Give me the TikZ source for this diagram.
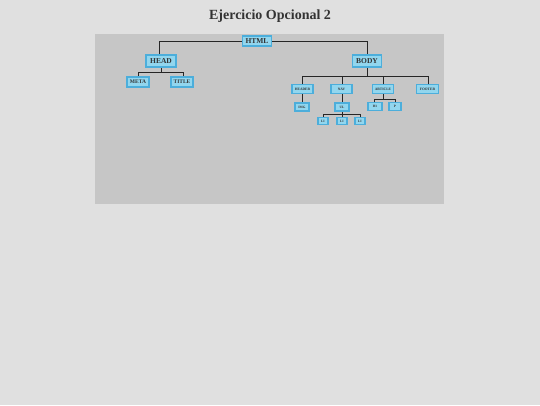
\documentclass[tikz,border=0pt]{standalone}
\usepackage{fontspec}
\setmainfont{Liberation Serif}
\definecolor{pagebg}{HTML}{E0E0E0}
\definecolor{panelbg}{HTML}{C6C6C6}
\definecolor{boxfill}{HTML}{92D6EE}
\definecolor{boxline}{HTML}{4CAEDB}
\definecolor{txt}{HTML}{333333}
\begin{document}
\begin{tikzpicture}[x=1pt,y=-1pt,
  tag/.style={draw=boxline,fill=boxfill,line width=1.3pt,inner sep=0pt,text=txt,font=\bfseries},
  big/.style={tag,minimum width=29pt,minimum height=11pt,font=\fontsize{7.5}{8}\selectfont\bfseries},
  mid/.style={tag,minimum width=21pt,minimum height=9pt,font=\fontsize{5.5}{6}\selectfont\bfseries},
  small/.style={tag,minimum width=21pt,minimum height=9pt,font=\fontsize{3.6}{4}\selectfont\bfseries},
  tiny/.style={tag,minimum width=14pt,minimum height=8pt,font=\fontsize{3.4}{4}\selectfont\bfseries},
  wire/.style={draw=black!85,line width=0.9pt}]
\useasboundingbox (0,0) rectangle (540,405);
\fill[pagebg] (0,0) rectangle (540,405);
\fill[panelbg] (95,34) rectangle (444,204);
\node[font=\fontsize{14}{16}\selectfont\bfseries,text=txt] (title) at (270,16) {Ejercicio Opcional 2};
% coordinates for branches
\coordinate (hL) at (159,41);
\coordinate (hR) at (367,41);
\coordinate (headj) at (161,72);
\coordinate (headL) at (138,72);
\coordinate (headR) at (183,72);
\coordinate (bodyj) at (367,76);
\coordinate (bodyL) at (302,76);
\coordinate (bodyR) at (428,76);
\coordinate (artj) at (383,99);
\coordinate (artL) at (374,99);
\coordinate (artR) at (395,99);
\coordinate (ulj) at (342,114);
\coordinate (ulL) at (323,114);
\coordinate (ulR) at (360,114);
% wires
\draw[wire] (hL) -- (hR);
\draw[wire] (hL) -- (159,61);
\draw[wire] (hR) -- (367,61);
\draw[wire] (161,61) -- (headj);
\draw[wire] (headL) -- (headR);
\draw[wire] (headL) -- (138,82);
\draw[wire] (headR) -- (183,82);
\draw[wire] (367,61) -- (bodyj);
\draw[wire] (bodyL) -- (bodyR);
\draw[wire] (bodyL) -- (302,89);
\draw[wire] (342,76) -- (342,89);
\draw[wire] (383,76) -- (383,89);
\draw[wire] (bodyR) -- (428,89);
\draw[wire] (302,89) -- (302,107);
\draw[wire] (342,89) -- (342,107);
\draw[wire] (383,89) -- (artj);
\draw[wire] (artL) -- (artR);
\draw[wire] (artL) -- (374,107);
\draw[wire] (artR) -- (395,107);
\draw[wire] (342,107) -- (ulj);
\draw[wire] (ulL) -- (ulR);
\draw[wire] (ulL) -- (323,121);
\draw[wire] (ulj) -- (342,121);
\draw[wire] (ulR) -- (360,121);
% nodes
\node[big,minimum width=29pt,minimum height=10pt] (html) at (257,41) {HTML};
\node[big,minimum width=30pt,minimum height=12pt] (head) at (161,61) {HEAD};
\node[big,minimum width=29pt,minimum height=12pt] (body) at (367,61) {BODY};
\node[mid,minimum width=22pt,minimum height=10pt] (meta) at (138,82) {META};
\node[mid,minimum width=22pt,minimum height=10pt] (ttl) at (182,82) {TITLE};
\node[small] (header) at (302.5,89) {HEADER};
\node[small] (nav) at (341.5,89) {NAV};
\node[small] (article) at (383,89) {ARTICLE};
\node[small,minimum width=22pt] (footer) at (427.5,89) {FOOTER};
\node[tiny] (img) at (302,107) {IMG};
\node[tiny] (ul) at (342,107) {UL};
\node[tiny] (h1) at (375,106.5) {H1};
\node[tiny,minimum width=12pt] (p) at (395,106.5) {P};
\node[tiny,minimum width=10pt,minimum height=7pt] (li1) at (323,121) {LI};
\node[tiny,minimum width=10pt,minimum height=7pt] (li2) at (342,121) {LI};
\node[tiny,minimum width=10pt,minimum height=7pt] (li3) at (360,121) {LI};
\end{tikzpicture}
\end{document}
